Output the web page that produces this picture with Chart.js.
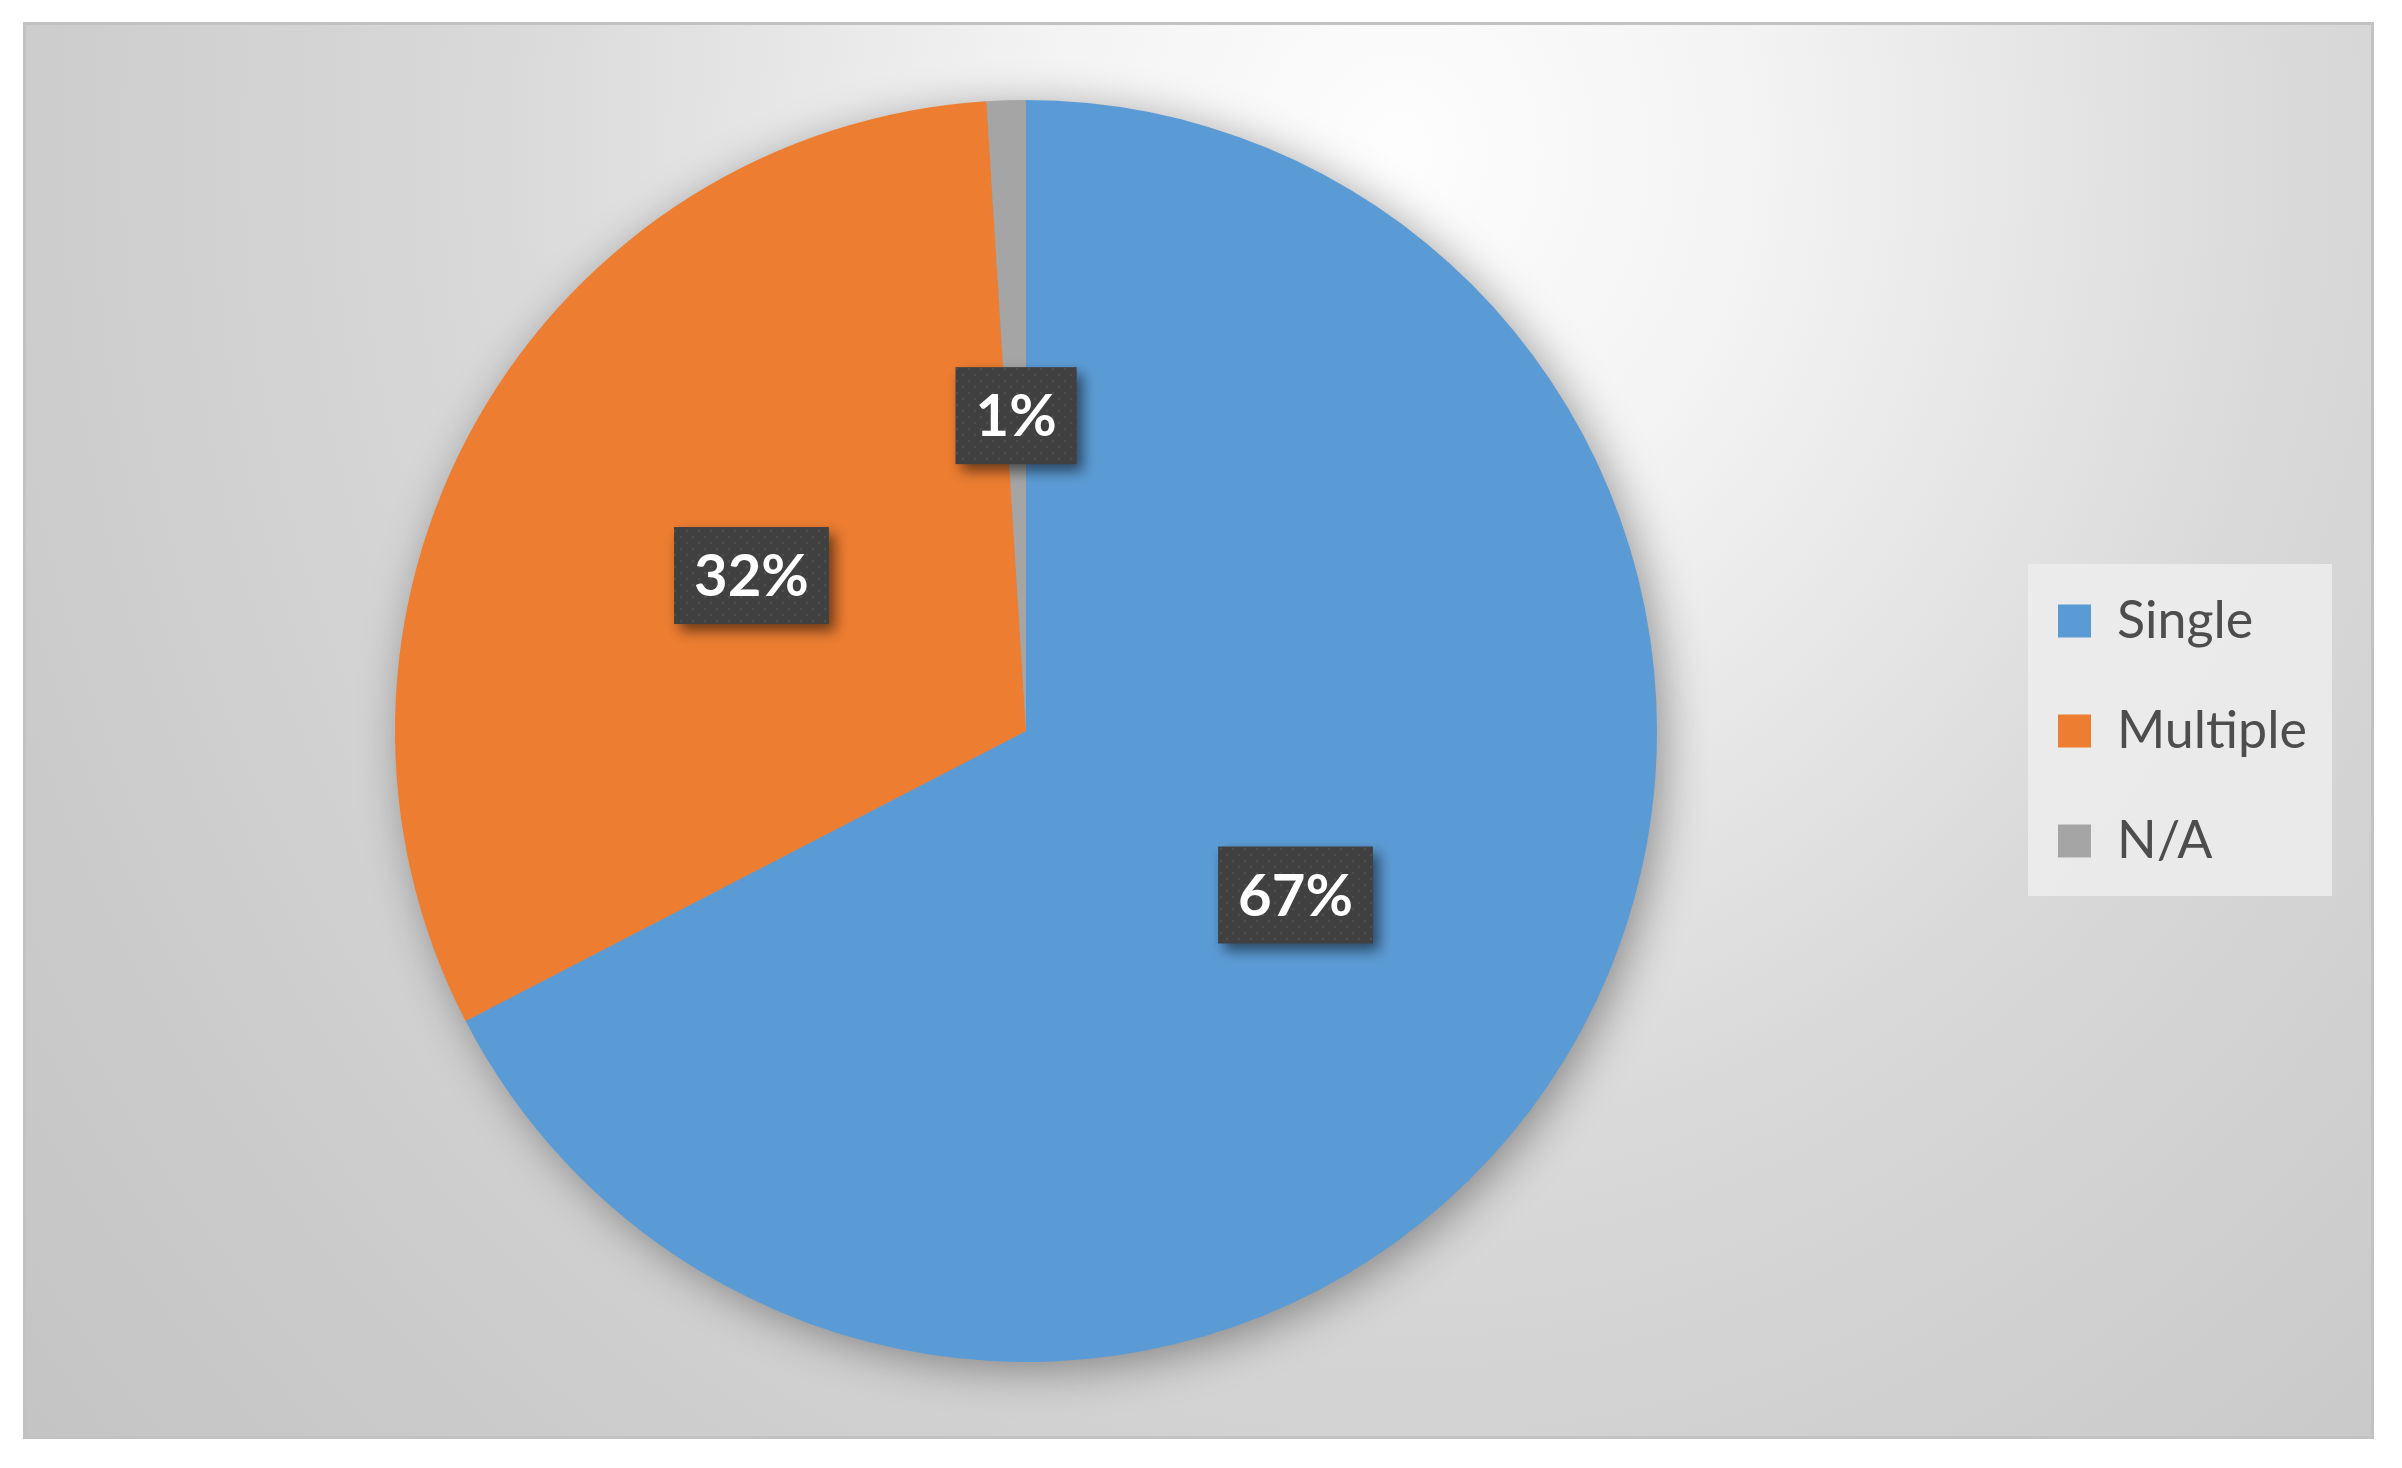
<!DOCTYPE html>
<html><head><meta charset="utf-8">
<script src="https://cdn.jsdelivr.net/npm/chart.js@4/dist/chart.umd.min.js"></script>
<style>html,body{margin:0;padding:0;background:#fff;overflow:hidden}canvas{display:block}</style>
</head><body>
<canvas id="c" width="2402" height="1468"></canvas>
<script>
// ---- data ----
const categories = ['Single', 'Multiple', 'N/A'];
const shares = [67.4, 31.6, 1.0];
const sliceColors = ['#5B9BD5', '#ED7D31', '#A5A5A5'];

// ---- background frame with radial gradient ----
const framePlugin = {
  id: 'frame',
  beforeDraw(chart) {
    const ctx = chart.ctx;
    ctx.save();
    ctx.fillStyle = '#ffffff';
    ctx.fillRect(0, 0, chart.width, chart.height);
    const x0 = 24, y0 = 23, x1 = 2372, y1 = 1437;
    const cx = 1400, cy = 150, rx = 1800, ry = 2000;
    const sx = rx / ry;
    ctx.save();
    ctx.translate(cx, cy);
    ctx.scale(sx, 1);
    const g = ctx.createRadialGradient(0, 0, 0, 0, 0, ry);
    g.addColorStop(0, '#fdfdfd');
    g.addColorStop(0.2, '#f3f3f3');
    g.addColorStop(0.5, '#d9d9d9');
    g.addColorStop(0.6, '#d4d4d4');
    g.addColorStop(0.8, '#cbcbcb');
    g.addColorStop(1, '#c4c4c4');
    ctx.fillStyle = g;
    ctx.fillRect((x0 - cx) / sx, y0 - cy, (x1 - x0) / sx, y1 - y0);
    ctx.restore();
    ctx.strokeStyle = '#c2c2c2';
    ctx.lineWidth = 3;
    ctx.strokeRect(x0 + 0.5, y0 + 0.5, x1 - x0, y1 - y0);
    // legend background
    const lg = chart.legend;
    if (lg && lg.legendHitBoxes && lg.legendHitBoxes.length) {
      const hb = lg.legendHitBoxes;
      const top = hb[0].top - 31, bottom = hb[hb.length - 1].top + hb[hb.length - 1].height + 29;
      const left = hb[0].left - 30;
      const right = left + 304;
      ctx.fillStyle = 'rgba(236,236,236,0.9)';
      ctx.fillRect(left, top, right - left, bottom - top);
    }
    ctx.restore();
  }
};

// ---- soft shadow under the pie ----
const pieShadow = {
  id: 'pieShadow',
  beforeDatasetsDraw(chart) {
    const arc = chart.getDatasetMeta(0).data[0];
    if (!arc) return;
    const ctx = chart.ctx;
    ctx.save();
    ctx.shadowColor = 'rgba(0,0,0,0.38)';
    ctx.shadowBlur = 45;
    ctx.shadowOffsetX = 8;
    ctx.shadowOffsetY = 8;
    ctx.fillStyle = '#9a9a9a';
    ctx.beginPath();
    ctx.arc(arc.x, arc.y, arc.outerRadius - 1, 0, Math.PI * 2);
    ctx.fill();
    ctx.restore();
  }
};

// ---- dark data-label boxes ----
let dotPattern = null;
function getPattern(ctx) {
  if (dotPattern) return dotPattern;
  const pc = document.createElement('canvas');
  pc.width = 12; pc.height = 12;
  const p = pc.getContext('2d');
  p.fillStyle = '#404040';
  p.fillRect(0, 0, 12, 12);
  p.fillStyle = '#4e4e4e';
  p.beginPath(); p.arc(3, 3, 1.3, 0, Math.PI * 2); p.fill();
  p.beginPath(); p.arc(9, 9, 1.3, 0, Math.PI * 2); p.fill();
  dotPattern = ctx.createPattern(pc, 'repeat');
  return dotPattern;
}
const labelBoxes = {
  id: 'labelBoxes',
  afterDatasetsDraw(chart) {
    const ctx = chart.ctx;
    const meta = chart.getDatasetMeta(0);
    const vals = chart.data.datasets[0].data;
    const total = vals.reduce((a, b) => a + b, 0);
    ctx.save();
    ctx.font = 'bold 58px Lato';
    ctx.textAlign = 'center';
    ctx.textBaseline = 'middle';
    meta.data.forEach((arc, i) => {
      const pt = arc.tooltipPosition();
      const txt = Math.round(vals[i] / total * 100) + '%';
      const w = ctx.measureText(txt).width + 40;
      const h = 97;
      ctx.save();
      ctx.shadowColor = 'rgba(0,0,0,0.55)';
      ctx.shadowBlur = 14;
      ctx.shadowOffsetX = 6;
      ctx.shadowOffsetY = 7;
      ctx.fillStyle = getPattern(ctx);
      ctx.fillRect(pt.x - w / 2, pt.y - h / 2, w, h);
      ctx.restore();
      ctx.fillStyle = '#ffffff';
      ctx.fillText(txt, pt.x, pt.y + 2);
    });
    ctx.restore();
  }
};

const chart = new Chart(document.getElementById('c'), {
  type: 'pie',
  data: {
    labels: categories,
    datasets: [{
      data: shares,
      backgroundColor: sliceColors,
      borderWidth: 0
    }]
  },
  options: {
    responsive: false,
    animation: false,
    layout: { padding: { top: 100, bottom: 106, left: 52, right: 32 } },
    plugins: {
      tooltip: { enabled: false },
      legend: {
        position: 'right',
        labels: {
          boxWidth: 33,
          boxHeight: 33,
          padding: 58,
          color: '#4d4d4d',
          font: { family: 'Lato', size: 52 }
        }
      }
    }
  },
  plugins: [framePlugin, pieShadow, labelBoxes]
});

// align legend & pie to reference layout
const targetLegendLeft = 2000;
const w = chart.legend.width;
chart.options.layout.padding.right = 2402 - w - targetLegendLeft;
chart.options.layout.padding.left = 2 * 1026 - targetLegendLeft;
chart.update('none');
</script>
</body></html>
